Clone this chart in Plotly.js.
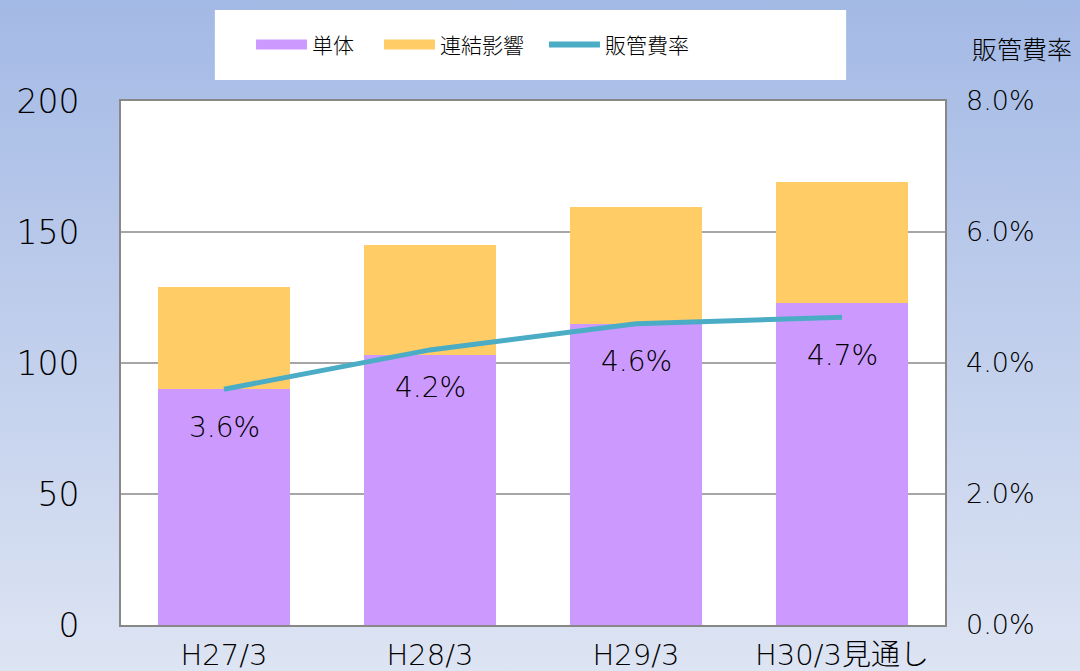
<!DOCTYPE html>
<html>
<head>
<meta charset="utf-8">
<script src="https://cdn.plot.ly/plotly-3.0.1.min.js"></script>
<style>
html,body{margin:0;padding:0;}
body{width:1080px;height:671px;background:linear-gradient(to bottom,#a3b9e5 0%,#dde4f3 100%);}
#chart{width:1080px;height:671px;}
</style>
</head>
<body>
<div id="chart"></div>
<script>
const categories = ["H27/3", "H28/3", "H29/3", "H30/3見通し"];
const tanTai = [90, 103, 115, 123];
const renketsu = [39, 42, 44.5, 46];
const hankanRate = [3.6, 4.2, 4.6, 4.7];
const rateLabels = ["3.6%", "4.2%", "4.6%", "4.7%"];
const leftTicks = [0, 50, 100, 150, 200];
const rightTicks = [0, 2, 4, 6, 8];
const rightTickText = ["0.0%", "2.0%", "4.0%", "6.0%", "8.0%"];
const seriesNames = ["単体", "連結影響", "販管費率"];
const seriesColors = ["#cc99ff", "#ffcc66", "#4bacc6"];

const numFont = "DejaVu Sans, Noto Sans CJK JP, sans-serif";
const jpFont = "Noto Sans CJK JP, sans-serif";
const W = 300;

const traces = [
  {type: "bar", name: seriesNames[0], x: categories, y: tanTai, marker: {color: seriesColors[0]}, width: 0.64, hoverinfo: "skip", showlegend: false},
  {type: "bar", name: seriesNames[1], x: categories, y: renketsu, marker: {color: seriesColors[1]}, width: 0.64, hoverinfo: "skip", showlegend: false},
  {type: "scatter", mode: "lines", name: seriesNames[2], x: categories, y: hankanRate, yaxis: "y2",
   line: {color: seriesColors[2], width: 5}, hoverinfo: "skip", showlegend: false},
  // legend entries (no data drawn)
  {type: "scatter", mode: "lines", name: seriesNames[0], x: [null], y: [null], legend: "legend", line: {color: seriesColors[0], width: 10}, hoverinfo: "skip"},
  {type: "scatter", mode: "lines", name: seriesNames[1], x: [null], y: [null], legend: "legend2", line: {color: seriesColors[1], width: 10}, hoverinfo: "skip"},
  {type: "scatter", mode: "lines", name: seriesNames[2], x: [null], y: [null], yaxis: "y2", legend: "legend3", line: {color: seriesColors[2], width: 6}, hoverinfo: "skip"}
];

const annotations = categories.map((c, i) => ({
  x: c, y: hankanRate[i], xref: "x", yref: "y2", text: rateLabels[i], showarrow: false,
  yshift: -38, font: {family: numFont, size: 28, color: "#000", weight: W}
}));
annotations.push({
  xref: "paper", yref: "paper", x: 1.093, y: 1.101, xanchor: "center", yanchor: "middle",
  text: "販管費率", showarrow: false, font: {family: jpFont, size: 25, color: "#000", weight: W}
});

function legendAt(x) {
  return {
    orientation: "h", x: x, y: 1.107, xanchor: "left", yanchor: "middle",
    bgcolor: "rgba(0,0,0,0)", font: {family: jpFont, size: 21, color: "#000", weight: W}, itemwidth: 51
  };
}

const layout = {
  width: 1080, height: 671,
  margin: {l: 121, r: 135, t: 101, b: 46, pad: 0},
  paper_bgcolor: "rgba(0,0,0,0)",
  plot_bgcolor: "#ffffff",
  barmode: "stack",
  showlegend: true,
  legend: legendAt(0.1578),
  legend2: legendAt(0.3131),
  legend3: legendAt(0.5133),
  shapes: [{
    type: "rect", xref: "paper", yref: "paper", x0: 0.1139, x1: 0.8800, y0: 1.0401, y1: 1.1737,
    fillcolor: "#ffffff", line: {width: 0}, layer: "below"
  }],
  xaxis: {
    type: "category", showgrid: false, showline: true, linecolor: "#888888", linewidth: 2,
    mirror: true, ticks: "", tickfont: {family: numFont, size: 29, color: "#000", weight: W}, ticklabelstandoff: 3
  },
  yaxis: {
    range: [0, 200], tickvals: leftTicks, showgrid: true, gridcolor: "#a6a6a6", gridwidth: 1.5,
    showline: true, linecolor: "#888888", linewidth: 2, mirror: true, zeroline: false, ticks: "",
    tickfont: {family: numFont, size: 33, color: "#000", weight: W}, ticklabelstandoff: 33
  },
  yaxis2: {
    range: [0, 8], overlaying: "y", side: "right", tickvals: rightTicks, ticktext: rightTickText,
    showgrid: false, zeroline: false, showline: false, ticks: "",
    tickfont: {family: numFont, size: 27, color: "#000", weight: W}, ticklabelstandoff: 20
  },
  annotations: annotations
};

Plotly.newPlot("chart", traces, layout, {displayModeBar: false, staticPlot: true});
</script>
</body>
</html>
